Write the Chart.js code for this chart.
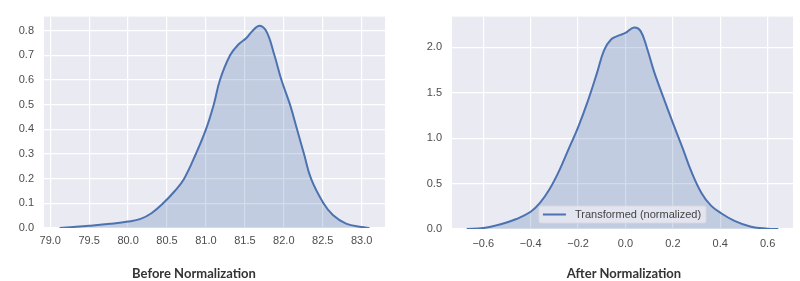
<!DOCTYPE html>
<html>
<head>
<meta charset="utf-8">
<script src="https://cdn.jsdelivr.net/npm/chart.js@4/dist/chart.umd.min.js"></script>
<style>
  body { margin: 0; background: #fff; }
  #wrap { position: relative; width: 800px; height: 281px; }
  canvas { position: absolute; top: 0; }
  .title {
    position: absolute;
    top: 265px;
    line-height: 16px;
    font: bold 13px "Lato", "Open Sans", sans-serif;
    color: #333;
    transform: translateX(-50%);
    white-space: nowrap;
  }
</style>
</head>
<body>
<div id="wrap">
  <canvas id="beforeChart" width="400" height="281" style="left:0"></canvas>
  <canvas id="afterChart" width="400" height="281" style="left:400px"></canvas>
  <div class="title" style="left:194px">Before Normalization</div>
  <div class="title" style="left:624px">After Normalization</div>
</div>
<script>
// density curve before normalization
const beforeX = [79.12, 79.3, 79.5, 79.77, 80.0, 80.16, 80.3, 80.45, 80.6, 80.72, 80.87, 81.0, 81.1, 81.18, 81.31, 81.42, 81.52, 81.6, 81.69, 81.78, 81.88, 81.97, 82.08, 82.17, 82.26, 82.35, 82.51, 82.63, 82.8, 83.0, 83.1];
const beforeY = [0.0, 0.004, 0.009, 0.017, 0.026, 0.037, 0.06, 0.1, 0.15, 0.2, 0.3, 0.4, 0.5, 0.6, 0.7, 0.745, 0.77, 0.80, 0.82, 0.795, 0.7, 0.6, 0.5, 0.4, 0.3, 0.2, 0.1, 0.053, 0.018, 0.004, 0.0];
const beforeXTicks = [79.0, 79.5, 80.0, 80.5, 81.0, 81.5, 82.0, 82.5, 83.0];
const beforeYTicks = [0.0, 0.1, 0.2, 0.3, 0.4, 0.5, 0.6, 0.7, 0.8];

// density curve after normalization
const afterX = [-0.67, -0.6, -0.53, -0.46, -0.40, -0.36, -0.32, -0.28, -0.24, -0.2, -0.16, -0.12, -0.09, -0.06, -0.03, 0.0, 0.036, 0.064, 0.09, 0.12, 0.16, 0.2, 0.24, 0.28, 0.32, 0.36, 0.40, 0.46, 0.53, 0.6, 0.645];
const afterY = [0.0, 0.01, 0.05, 0.11, 0.19, 0.29, 0.44, 0.64, 0.88, 1.12, 1.40, 1.72, 1.97, 2.09, 2.13, 2.16, 2.22, 2.18, 2.0, 1.74, 1.45, 1.17, 0.90, 0.62, 0.40, 0.26, 0.18, 0.09, 0.025, 0.004, 0.0];
const afterXTicks = [-0.6, -0.4, -0.2, 0.0, 0.2, 0.4, 0.6];
const afterYTicks = [0.0, 0.5, 1.0, 1.5, 2.0];
const afterLegend = "Transformed (normalized)";

const LINE = "#4c72b0";
const FILL = "rgba(76, 114, 176, 0.25)";
const TICK_FONT = { family: '"Liberation Sans", Arial, sans-serif', size: 11 };

function fmt(v) {
  return (v < 0 ? "\u2212" : "") + Math.abs(v).toFixed(1);
}

// seaborn style grey plot background
const plotBg = {
  id: "plotBg",
  beforeDraw(chart) {
    const { ctx, chartArea: a } = chart;
    ctx.save();
    ctx.fillStyle = "#eaeaf2";
    ctx.fillRect(a.left, a.top, a.right - a.left, a.bottom - a.top);
    ctx.restore();
  }
};

// legend box at lower center of the plot
const lowerLegend = {
  id: "lowerLegend",
  afterDatasetsDraw(chart, args, opts) {
    if (!opts.text) return;
    const { ctx, chartArea: a } = chart;
    ctx.save();
    ctx.font = '11px "Liberation Sans", Arial, sans-serif';
    const tw = ctx.measureText(opts.text).width;
    const w = 4 + 23 + 9 + tw + 5;
    const h = 17;
    const x = (a.left + a.right) / 2 - w / 2;
    const y = a.bottom - 6 - h;
    ctx.beginPath();
    ctx.roundRect(x, y, w, h, 2);
    ctx.fillStyle = "rgba(234, 234, 242, 0.8)";
    ctx.fill();
    ctx.strokeStyle = "rgba(215, 215, 222, 0.9)";
    ctx.lineWidth = 1;
    ctx.stroke();
    ctx.beginPath();
    ctx.moveTo(x + 4, y + h / 2);
    ctx.lineTo(x + 27, y + h / 2);
    ctx.strokeStyle = LINE;
    ctx.lineWidth = 2;
    ctx.stroke();
    ctx.fillStyle = "#444";
    ctx.textBaseline = "middle";
    ctx.fillText(opts.text, x + 36, y + h / 2 + 0.5);
    ctx.restore();
  }
};

function makeChart(id, xs, ys, xTicks, yTicks, cfg) {
  const points = xs.map((x, i) => ({ x: x, y: ys[i] }));
  return new Chart(document.getElementById(id), {
    type: "line",
    data: {
      datasets: [{
        data: points,
        borderColor: LINE,
        backgroundColor: FILL,
        borderWidth: 2,
        pointRadius: 0,
        fill: "origin",
        tension: 0.4
      }]
    },
    options: {
      responsive: false,
      animation: false,
      events: [],
      layout: { padding: cfg.padding },
      plugins: {
        legend: { display: false },
        tooltip: { enabled: false },
        lowerLegend: { text: cfg.legend || "" }
      },
      scales: {
        x: {
          type: "linear",
          min: cfg.xMin,
          max: cfg.xMax,
          afterBuildTicks: s => { s.ticks = xTicks.map(v => ({ value: v })); },
          afterFit: s => { s.height = cfg.xHeight; },
          ticks: { callback: fmt, font: TICK_FONT, color: "#4d4d4d", padding: cfg.xPad, maxRotation: 0 },
          grid: { color: "#ffffff", lineWidth: 1.2, drawTicks: false },
          border: { display: false }
        },
        y: {
          min: 0,
          max: cfg.yMax,
          afterBuildTicks: s => { s.ticks = yTicks.map(v => ({ value: v })); },
          afterFit: s => { s.width = cfg.yWidth; },
          ticks: { callback: fmt, font: TICK_FONT, color: "#4d4d4d", padding: 10 },
          grid: { color: "#ffffff", lineWidth: 1.2, drawTicks: false },
          border: { display: false }
        }
      }
    },
    plugins: [plotBg, lowerLegend]
  });
}

makeChart("beforeChart", beforeX, beforeY, beforeXTicks, beforeYTicks, {
  padding: { top: 6, right: 15, left: 0, bottom: 0 },
  xMin: 78.92, xMax: 83.3, yMax: 0.857,
  xHeight: 53, yWidth: 44, xPad: 6
});

makeChart("afterChart", afterX, afterY, afterXTicks, afterYTicks, {
  padding: { top: 8, right: 7, left: 0, bottom: 0 },
  xMin: -0.732, xMax: 0.707, yMax: 2.34,
  xHeight: 52, yWidth: 52, xPad: 8,
  legend: afterLegend
});
</script>
</body>
</html>
